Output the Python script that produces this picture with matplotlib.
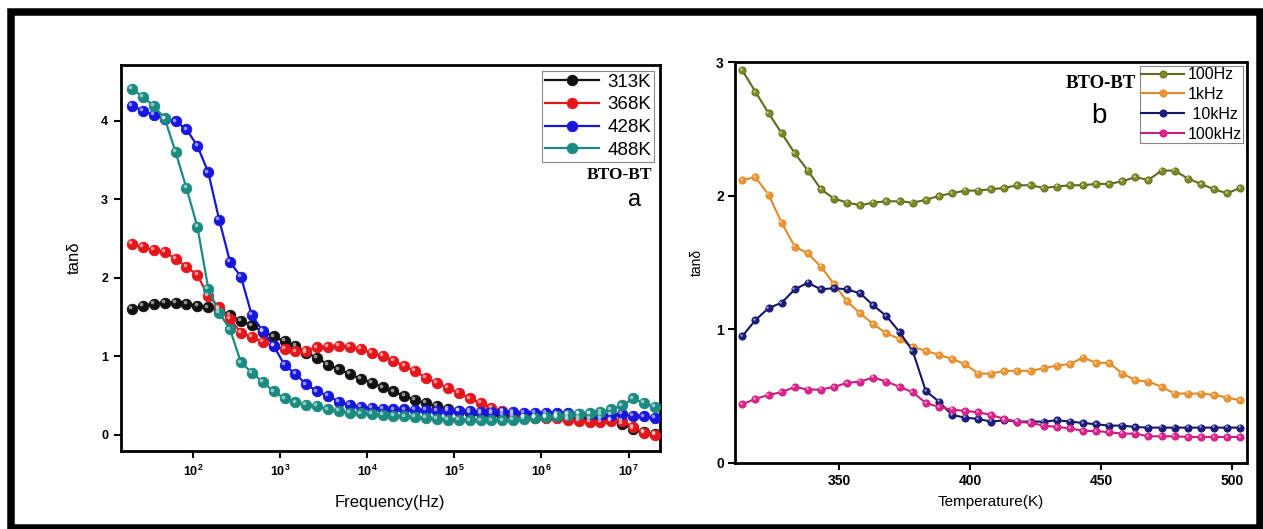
import numpy as np
import matplotlib
matplotlib.use("Agg")
import matplotlib.pyplot as plt
from matplotlib.patches import Rectangle
from matplotlib.transforms import offset_copy
from matplotlib.ticker import FixedLocator, NullLocator

plt.rcParams['font.family'] = ['Liberation Sans', 'DejaVu Sans']
plt.rcParams['mathtext.fontset'] = 'custom'
plt.rcParams['mathtext.rm'] = 'Liberation Sans'
plt.rcParams['mathtext.bf'] = 'Liberation Sans:bold'

# ---------------- Panel a data: tan(delta) vs frequency ----------------
freq_log_start = 1.30103   # 20 Hz
freq_log_step = 0.125      # 8 points per decade
n_freq = 49
freq = 10 ** (freq_log_start + freq_log_step * np.arange(n_freq))

tan_313K = [1.60, 1.64, 1.67, 1.68, 1.68, 1.67, 1.64, 1.62, 1.59, 1.52,
            1.45, 1.39, 1.31, 1.25, 1.19, 1.13, 1.04, 0.98, 0.89, 0.83,
            0.77, 0.71, 0.66, 0.60, 0.55, 0.49, 0.44, 0.40, 0.36, 0.33,
            0.30, 0.28, 0.27, 0.26, 0.25, 0.24, 0.23, 0.23, 0.22, 0.22,
            0.21, 0.21, 0.20, 0.20, 0.19, 0.14, 0.07, 0.03, 0.01]
tan_368K = [2.43, 2.39, 2.35, 2.33, 2.24, 2.14, 2.03, 1.77, 1.62, 1.47,
            1.30, 1.24, 1.18, 1.13, 1.09, 1.06, 1.07, 1.11, 1.12, 1.13,
            1.12, 1.09, 1.04, 1.00, 0.94, 0.87, 0.81, 0.72, 0.66, 0.59,
            0.53, 0.46, 0.40, 0.34, 0.30, 0.26, 0.23, 0.21, 0.21, 0.21,
            0.19, 0.17, 0.16, 0.16, 0.17, 0.17, 0.10, 0.02, 0.00]
tan_428K = [4.19, 4.13, 4.07, 4.02, 3.99, 3.89, 3.68, 3.34, 2.74, 2.20,
            2.01, 1.52, 1.32, 1.13, 0.89, 0.77, 0.64, 0.55, 0.49, 0.42,
            0.38, 0.35, 0.34, 0.33, 0.32, 0.32, 0.31, 0.31, 0.30, 0.30,
            0.30, 0.30, 0.29, 0.29, 0.29, 0.29, 0.28, 0.28, 0.28, 0.27,
            0.27, 0.26, 0.26, 0.25, 0.25, 0.26, 0.24, 0.23, 0.21]
tan_488K = [4.41, 4.30, 4.19, 4.03, 3.60, 3.14, 2.65, 1.86, 1.55, 1.34,
            0.92, 0.79, 0.67, 0.55, 0.46, 0.41, 0.38, 0.36, 0.32, 0.30,
            0.28, 0.27, 0.26, 0.25, 0.24, 0.23, 0.22, 0.21, 0.20, 0.19,
            0.19, 0.18, 0.18, 0.18, 0.18, 0.19, 0.20, 0.21, 0.22, 0.24,
            0.25, 0.26, 0.27, 0.29, 0.32, 0.37, 0.46, 0.40, 0.35]
labels_a = ['313K', '368K', '428K', '488K']
colors_a = ['#111111', '#e3161c', '#1616dc', '#1b8a80']

# ---------------- Panel b data: tan(delta) vs temperature ----------------
temperature = np.arange(313, 504, 5)

tan_100Hz = [2.94, 2.78, 2.62, 2.47, 2.32, 2.19, 2.05, 1.98, 1.95, 1.93,
             1.95, 1.96, 1.96, 1.95, 1.97, 2.00, 2.02, 2.04, 2.04, 2.05,
             2.06, 2.08, 2.08, 2.06, 2.07, 2.08, 2.08, 2.09, 2.09, 2.11,
             2.14, 2.12, 2.19, 2.19, 2.13, 2.09, 2.05, 2.02, 2.06]
tan_1kHz = [2.12, 2.14, 2.01, 1.80, 1.62, 1.57, 1.47, 1.34, 1.21, 1.12,
            1.04, 0.97, 0.93, 0.87, 0.84, 0.81, 0.78, 0.74, 0.67, 0.67,
            0.69, 0.69, 0.69, 0.71, 0.73, 0.74, 0.79, 0.75, 0.75, 0.67,
            0.62, 0.61, 0.57, 0.52, 0.52, 0.52, 0.51, 0.49, 0.47]
tan_10kHz = [0.95, 1.07, 1.16, 1.20, 1.30, 1.35, 1.30, 1.31, 1.30, 1.27,
             1.18, 1.10, 0.98, 0.84, 0.54, 0.46, 0.36, 0.34, 0.33, 0.31,
             0.32, 0.31, 0.31, 0.31, 0.32, 0.31, 0.30, 0.29, 0.28, 0.28,
             0.27, 0.265, 0.265, 0.265, 0.265, 0.265, 0.265, 0.265, 0.265]
tan_100kHz = [0.44, 0.48, 0.51, 0.53, 0.57, 0.55, 0.55, 0.57, 0.60, 0.61,
              0.64, 0.61, 0.57, 0.53, 0.45, 0.42, 0.40, 0.39, 0.38, 0.36,
              0.33, 0.31, 0.30, 0.28, 0.27, 0.26, 0.24, 0.24, 0.23, 0.22,
              0.22, 0.20, 0.20, 0.20, 0.195, 0.195, 0.195, 0.195, 0.195]
labels_b = ['100Hz', '1kHz', ' 10kHz', '100kHz']
colors_b = ['#7d8a22', '#ec9430', '#1c1c80', '#e0228e']
line_colors_b = ['#5e6b1c', '#e08a2a', '#16166a', '#c81e7e']

fig = plt.figure(figsize=(12.63, 5.29), dpi=100)
W, H = 1263, 529

# outer black frame
fig.add_artist(Rectangle((10.5 / W, 1.5 / H), (1260 - 10.5) / W, (517 - 1.5) / H,
                         transform=fig.transFigure, fill=False,
                         edgecolor='black', linewidth=5.4, zorder=10))


def draw_series(ax, x, y, color, lcolor, label, ms, lw, hl):
    ax.plot(x, y, '-', color=lcolor, lw=lw, marker='o', ms=ms,
            markerfacecolor=color, markeredgecolor=lcolor,
            markeredgewidth=0.6, label=label, zorder=3)
    tr = offset_copy(ax.transData, fig=fig, x=-hl, y=hl, units='points')
    ax.plot(x, y, linestyle='none', marker='o', ms=ms * 0.35,
            markerfacecolor='white', markeredgecolor='none', alpha=0.55,
            transform=tr, zorder=4)


# ---------------- Panel a ----------------
axa = fig.add_axes([120.5 / W, (H - 451) / H, (660 - 120.5) / W, (451 - 65) / H])
series_a = [tan_313K, tan_368K, tan_428K, tan_488K]
for y, c, lab in zip(series_a, colors_a, labels_a):
    draw_series(axa, freq, y, c, c, lab, 7.6, 1.6, 1.3)
axa.set_xscale('log')
axa.set_xlim(10 ** 1.169, 10 ** 7.36)
axa.set_ylim(-0.21, 4.71)
axa.xaxis.set_major_locator(FixedLocator([1e2, 1e3, 1e4, 1e5, 1e6, 1e7]))
axa.xaxis.set_minor_locator(NullLocator())
axa.set_xticklabels([r'$\mathbf{10^{%d}}$' % k for k in range(2, 8)], fontsize=9)
axa.set_yticks([0, 1, 2, 3, 4])
axa.set_yticklabels(['0', '1', '2', '3', '4'], fontsize=9, fontweight='bold')
axa.tick_params(direction='out', length=5, width=1.5, top=False, right=False, pad=4)
for s in axa.spines.values():
    s.set_linewidth(2.0)
axa.set_xlabel('Frequency(Hz)', fontsize=12, labelpad=12)
axa.set_ylabel('tanδ', fontsize=12, labelpad=14)
leg = axa.legend(loc='upper right', fontsize=13.5, frameon=True, fancybox=False,
                 edgecolor='#888888', handlelength=2.9, handletextpad=0.45,
                 labelspacing=0.3, borderpad=0.15, borderaxespad=0.3,
                 framealpha=1)
leg.get_frame().set_linewidth(0.8)
axa.text(0.985, 0.715, 'BTO-BT', transform=axa.transAxes, ha='right', va='center',
         family='Liberation Serif', fontweight='bold', fontsize=12.5)
axa.text(0.965, 0.65, 'a', transform=axa.transAxes, ha='right', va='center',
         fontsize=17)

# ---------------- Panel b ----------------
axb = fig.add_axes([735 / W, (H - 463) / H, (1246.5 - 735) / W, (463 - 62.4) / H])
series_b = [tan_100Hz, tan_1kHz, tan_10kHz, tan_100kHz]
for y, c, lc, lab in zip(series_b, colors_b, line_colors_b, labels_b):
    draw_series(axb, temperature, y, c, lc, lab, 5.2, 1.5, 0.9)
axb.set_xlim(310.2, 505.4)
axb.set_ylim(0, 3)
axb.set_xticks([350, 400, 450, 500])
axb.set_xticklabels(['350', '400', '450', '500'], fontsize=10, fontweight='bold')
axb.set_yticks([0, 1, 2, 3])
axb.set_yticklabels(['0', '1', '2', '3'], fontsize=10, fontweight='bold')
axb.tick_params(direction='out', length=5, width=1.5, top=False, right=False, pad=3)
for s in axb.spines.values():
    s.set_linewidth(2.0)
axb.set_xlabel('Temperature(K)', fontsize=11, labelpad=5)
axb.set_ylabel('tanδ', fontsize=10, labelpad=9)
legb = axb.legend(loc='upper right', fontsize=11.5, frameon=True, fancybox=False,
                  edgecolor='#888888', handlelength=2.7, handletextpad=0.2,
                  labelspacing=0.3, borderpad=0.1, borderaxespad=0.2,
                  framealpha=1)
legb.get_frame().set_linewidth(0.8)
axb.text(0.785, 0.948, 'BTO-BT', transform=axb.transAxes, ha='right', va='center',
         family='Liberation Serif', fontweight='bold', fontsize=13.5)
axb.text(0.712, 0.865, 'b', transform=axb.transAxes, ha='center', va='center',
         fontsize=20)

fig.savefig('out.png', dpi=100)
